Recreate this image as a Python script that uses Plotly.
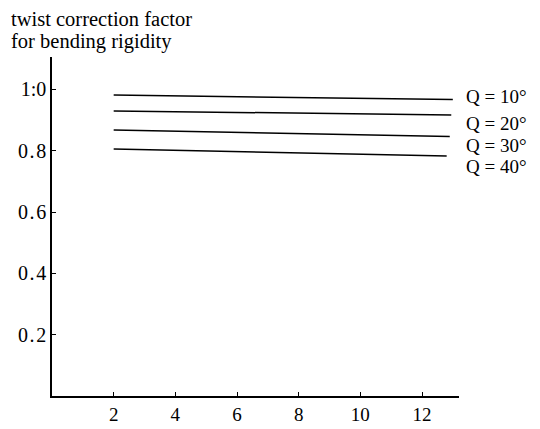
import plotly.graph_objects as go

# Data
series_names = ["Q=10°", "Q=20°", "Q=30°", "Q=40°"]
series_x = [
    [2, 7, 13.0],
    [2, 7, 12.95],
    [2, 7, 12.9],
    [2, 7, 12.8],
]
series_y = [
    [0.982, 0.975, 0.967],
    [0.930, 0.924, 0.917],
    [0.868, 0.858, 0.847],
    [0.806, 0.796, 0.783],
]
label_y = [0.976, 0.889, 0.818, 0.748]
y_ticks = [0.2, 0.4, 0.6, 0.8, 1.0]
y_ticktext = ["0\u200a.\u200a2", "0\u200a.\u200a4", "0\u200a.\u200a6",
              "0\u200a.\u200a8", "1:0"]
x_ticks = [2, 4, 6, 8, 10, 12]
x_ticktext = ["2", "4", "6", "8", "10", "12"]
title_lines = ["twist correction factor", "for bending rigidity"]

FONT = "Liberation Serif"

fig = go.Figure()
for name, xs, ys in zip(series_names, series_x, series_y):
    fig.add_trace(go.Scatter(x=xs, y=ys, mode="lines", name=name,
                             line=dict(color="black", width=1.5),
                             showlegend=False, hoverinfo="skip"))

for name, ly in zip(series_names, label_y):
    fig.add_annotation(x=1, y=ly, xref="paper", yref="y", xshift=5,
                       text=name.replace("=", " = "),
                       showarrow=False, xanchor="left", yanchor="middle",
                       font=dict(family=FONT, size=19, color="black"))

for txt, ys in zip(title_lines, [38, 16]):
    fig.add_annotation(x=0, y=1, xref="paper", yref="paper",
                       xshift=-43, yshift=ys, xanchor="left", yanchor="middle",
                       align="left", text=txt, showarrow=False,
                       font=dict(family=FONT, size=20.5, color="black"))

fig.update_layout(
    width=532, height=421,
    margin=dict(l=44, r=81, t=49, b=33, autoexpand=False),
    paper_bgcolor="white", plot_bgcolor="white",
    font=dict(family=FONT, size=19, color="black"),
    xaxis=dict(range=[0, 13.2], tickvals=x_ticks, ticktext=x_ticktext,
               showgrid=False, zeroline=False, showline=True,
               linecolor="black", linewidth=1.5,
               ticks="inside", ticklen=4, tickcolor="black",
               automargin=False,
               tickfont=dict(family=FONT, size=19)),
    yaxis=dict(range=[0, 1.106], tickvals=y_ticks, ticktext=y_ticktext,
               showgrid=False, zeroline=False, showline=True,
               linecolor="black", linewidth=1.5,
               ticks="inside", ticklen=4, tickcolor="black",
               automargin=False,
               tickfont=dict(family=FONT, size=20)),
)

fig.write_html("out.html")
